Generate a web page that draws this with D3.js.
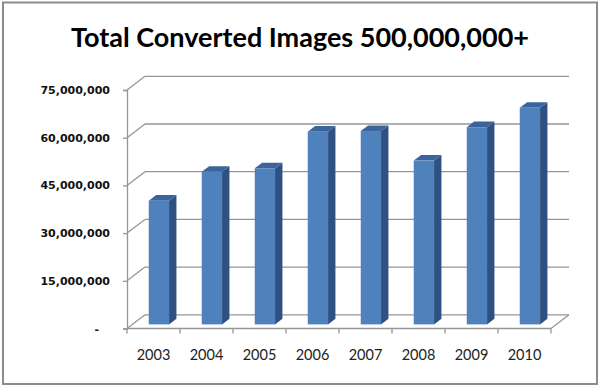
<!DOCTYPE html>
<html>
<head>
<meta charset="utf-8">
<script src="https://cdn.jsdelivr.net/npm/d3@7"></script>
<style>
  body { margin: 0; background: #fff; }
  svg { display: block; }
</style>
</head>
<body>
<div id="chart"></div>
<script>
const years = ["2003", "2004", "2005", "2006", "2007", "2008", "2009", "2010"];
const images = [38900000, 48000000, 49100000, 60600000, 60800000, 51500000, 62000000, 68100000];
const yTicks = [0, 15000000, 30000000, 45000000, 60000000, 75000000];
const title = "Total Converted Images 500,000,000+";

const width = 600;
const height = 387;

// plot box (front plane) and the 3d depth vector
const plotLeft = 127, plotRight = 551, plotBase = 328.5, plotTop = 90;
const depthX = 18, depthY = -13.7;
const barFront = 0.3, barBack = 0.71;

const svg = d3.select("#chart")
  .append("svg")
  .attr("width", width)
  .attr("height", height);

svg.append("rect")
  .attr("x", 3).attr("y", 2.5)
  .attr("width", 594).attr("height", 381.5)
  .attr("fill", "#fff")
  .attr("stroke", "#8c8c8c")
  .attr("stroke-width", 2);

svg.append("text")
  .attr("x", 300)
  .attr("y", 47)
  .attr("text-anchor", "middle")
  .style("font-family", "Lato, 'Open Sans', sans-serif")
  .style("font-weight", "bold")
  .style("font-size", "27px")
  .style("fill", "#000")
  .text(title);

const y = d3.scaleLinear().domain([0, 75000000]).range([plotBase, plotTop]);

const xCat = d3.scaleBand().domain(years).range([plotLeft, plotRight]);
const x = d3.scaleBand().domain(years).range([plotLeft, plotRight])
  .paddingInner(0.617).paddingOuter(0.3085);

const gridColor = "#969696";

// back wall gridlines + left wall diagonals
const grid = svg.append("g");
yTicks.forEach(t => {
  const yy = y(t);
  grid.append("line")
    .attr("x1", plotLeft).attr("y1", yy)
    .attr("x2", plotLeft + depthX).attr("y2", yy + depthY)
    .attr("stroke", gridColor).attr("stroke-width", 1.3);
  grid.append("line")
    .attr("x1", plotLeft + depthX).attr("y1", yy + depthY)
    .attr("x2", plotRight + depthX).attr("y2", yy + depthY)
    .attr("stroke", gridColor).attr("stroke-width", 1.3);
});

// floor right edge
grid.append("line")
  .attr("x1", plotRight).attr("y1", plotBase)
  .attr("x2", plotRight + depthX).attr("y2", plotBase + depthY)
  .attr("stroke", gridColor).attr("stroke-width", 1.3);

// y axis
const yAxis = d3.axisLeft(y)
  .tickValues(yTicks)
  .tickSize(4)
  .tickPadding(13)
  .tickFormat(d => d === 0 ? "-" : d3.format(",")(d));

const gy = svg.append("g")
  .attr("transform", "translate(" + plotLeft + ",0)")
  .call(yAxis);
gy.select(".domain").attr("stroke", gridColor).attr("stroke-width", 1.3);
gy.selectAll(".tick line").attr("stroke", gridColor).attr("stroke-width", 1.3);
gy.selectAll(".tick text")
  .style("font-family", "'DejaVu Sans', Verdana, sans-serif")
  .style("font-weight", "bold")
  .style("font-size", "11px")
  .style("fill", "#111")
  .attr("dx", d => d === 0 ? -11 : 0);

// x axis: boundary ticks + centered labels
const gx = svg.append("g");
gx.append("line")
  .attr("x1", plotLeft).attr("y1", plotBase)
  .attr("x2", plotRight).attr("y2", plotBase)
  .attr("stroke", gridColor).attr("stroke-width", 1.3);
const bounds = years.map(d => xCat(d)).concat([plotRight]);
gx.selectAll(null)
  .data(bounds)
  .enter()
  .append("line")
  .attr("x1", d => d).attr("x2", d => d)
  .attr("y1", plotBase).attr("y2", plotBase + 5)
  .attr("stroke", gridColor).attr("stroke-width", 1.3);
gx.selectAll(null)
  .data(years)
  .enter()
  .append("text")
  .attr("x", d => xCat(d) + xCat.bandwidth() / 2)
  .attr("y", 360)
  .attr("text-anchor", "middle")
  .style("font-family", "Lato, 'Open Sans', sans-serif")
  .style("font-size", "14.5px")
  .style("fill", "#222")
  .text(d => d);

// 3d bars
const data = years.map((d, i) => ({ year: d, value: images[i] }));
const bars = svg.append("g");
const fx = barFront * depthX, fy = barFront * depthY;
const sx = (barBack - barFront) * depthX, sy = (barBack - barFront) * depthY;

data.forEach(d => {
  const x0 = x(d.year) + fx;
  const x1 = x0 + x.bandwidth();
  const y0 = y(0) + fy;
  const y1 = y(d.value) + fy;
  const g = bars.append("g");
  // side
  g.append("path")
    .attr("d", "M" + x1 + "," + y1 + "L" + (x1 + sx) + "," + (y1 + sy) +
      "L" + (x1 + sx) + "," + (y0 + sy) + "L" + x1 + "," + y0 + "Z")
    .attr("fill", "#2f5182");
  // top
  g.append("path")
    .attr("d", "M" + x0 + "," + y1 + "L" + x1 + "," + y1 +
      "L" + (x1 + sx) + "," + (y1 + sy) + "L" + (x0 + sx) + "," + (y1 + sy) + "Z")
    .attr("fill", "#3b649c");
  // front
  g.append("rect")
    .attr("x", x0).attr("y", y1)
    .attr("width", x.bandwidth())
    .attr("height", y0 - y1)
    .attr("fill", "#4f81bd");
});
</script>
</body>
</html>
